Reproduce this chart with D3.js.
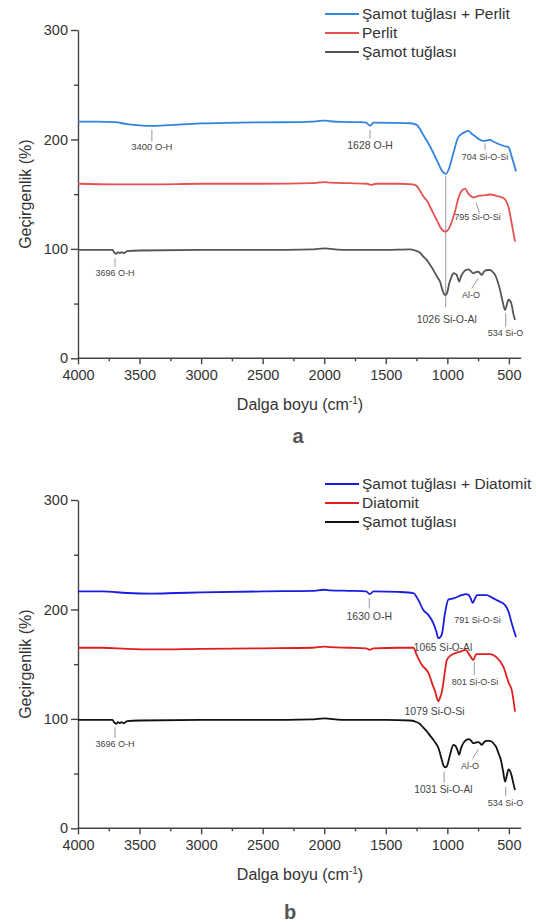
<!DOCTYPE html>
<html>
<head>
<meta charset="utf-8">
<script src="https://cdn.jsdelivr.net/npm/d3@7"></script>
<style>
  body { margin: 0; background: #fff; }
  svg { display: block; font-family: "Liberation Sans", Arial, sans-serif; }
</style>
</head>
<body>
<svg id="chart" width="536" height="924"></svg>
<script>
// wavenumber (cm-1), transmittance (%)
const perlitMix = [[4000,216.3],[3850,216.3],[3700,215.8],[3600,214],[3500,212.8],[3400,212.3],[3300,212.8],[3150,213.8],[3000,214.6],[2800,215.2],[2500,215.6],[2200,215.8],[2100,216.2],[2050,216.8],[2000,217.2],[1950,216.6],[1850,216],[1700,215.8],[1660,215.3],[1628,212.6],[1600,215.4],[1450,215.2],[1300,214.8],[1249,213.3],[1195,204.1],[1140,193.5],[1086,181.3],[1040,170.8],[1012,168.5],[985,173.8],[951,187.5],[911,202.1],[870,206],[830,207.8],[800,205],[775,203],[740,200],[708,198.6],[680,199],[653,199.6],[620,197.6],[599,196.5],[540,194],[504,193],[477,184.3],[442,170.6]];
const perlit = [[4000,159.5],[3700,159],[3400,159],[3000,159.5],[2500,159.5],[2100,160],[2000,161],[1950,160.5],[1800,160],[1650,159.5],[1620,158.5],[1580,159.5],[1400,159.5],[1280,159],[1249,157.5],[1195,148],[1160,143],[1140,138.5],[1110,131.5],[1086,126.5],[1050,118.5],[1019,115.7],[990,118],[965,124.5],[940,133],[911,146],[884,153],[856,155],[830,150.5],[800,147.5],[789,147],[760,148],[708,148.8],[653,149.7],[600,148.3],[545,146.5],[504,138.5],[480,125],[450,106.6]];
const samotA = [[4000,99],[3800,99],[3720,99],[3705,96.5],[3690,95.5],[3675,97],[3660,96],[3645,97],[3630,96],[3615,97],[3600,98],[3500,98.5],[3000,99],[2500,99],[2100,99.5],[2000,100.5],[1950,100],[1800,99],[1500,99],[1303,99.5],[1260,98.5],[1222,96.5],[1195,93],[1168,90],[1140,85.3],[1114,80.8],[1085,74.8],[1059,70],[1040,62.5],[1025,58.5],[1013,57.9],[1000,60.5],[984,68.7],[965,74.7],[951,77.7],[935,77.2],[924,76.2],[910,71.7],[903,70],[890,74.7],[875,77.7],[850,80.7],[830,81.3],[810,79.7],[789,77.7],[770,78.7],[748,79.2],[735,77.7],[720,76.2],[705,78.7],[694,80.1],[670,80.7],[653,80.7],[630,78.7],[612,76.2],[590,69.7],[572,62.5],[550,51.5],[531,44.1],[518,48.5],[504,53.5],[490,52.5],[477,48.8],[465,41.3],[450,35]];

const diatomitMix = [[4000,216.5],[3800,216.5],[3600,215],[3400,214.5],[3200,215],[3000,215.5],[2500,216.5],[2100,217],[2000,218],[1950,217.5],[1800,217],[1660,216.5],[1630,214],[1600,216.5],[1400,216],[1276,215],[1235,208.5],[1195,199.4],[1154,195],[1114,187.4],[1090,180],[1073,173.7],[1046,176.8],[1019,196.5],[992,209],[951,210],[883,213],[850,214],[830,213.5],[810,210],[794,206],[775,210],[761,213],[720,213],[680,213],[640,211],[599,208.5],[531,204],[500,197],[477,187.4],[442,174.8]];
const diatomit = [[4000,165],[3800,165],[3600,164],[3400,163.5],[3000,164],[2500,164.5],[2100,165],[2000,166],[1950,165.5],[1800,165],[1660,164.5],[1630,163],[1600,164.5],[1400,165],[1276,165],[1249,158.5],[1208,149.5],[1154,142],[1114,129.5],[1100,125.5],[1085,119],[1073,116],[1060,119],[1041,126.5],[1020,143],[1005,153.5],[978,157.5],[900,161.3],[850,162.8],[820,158.5],[789,153.8],[765,159.2],[700,159.2],[653,159.2],[600,156.2],[545,147.7],[500,132.5],[477,126.5],[450,106.6]];
const samotB = [[4000,99],[3800,99],[3720,99],[3705,96.5],[3690,95.5],[3675,97],[3660,96],[3645,97],[3630,96],[3615,97],[3600,98],[3500,98.5],[3000,99],[2500,99],[2100,99.5],[2000,100.5],[1950,100],[1800,99],[1500,99],[1303,98.5],[1260,97.5],[1222,95.3],[1195,92],[1168,88.8],[1140,84.7],[1114,81],[1090,77],[1073,73.5],[1046,63],[1030,57],[1019,55.8],[1005,56.5],[978,67.3],[951,76.3],[935,75.3],[924,73.3],[910,68.8],[903,67.3],[890,72.8],[870,77.8],[845,80.8],[824,81.4],[805,79.8],[789,77.8],[770,78.3],[748,78.8],[735,77.8],[720,76.3],[700,78.8],[686,79.8],[660,79.8],[640,79.3],[620,76.8],[605,74.8],[585,68.8],[566,62.8],[548,52.8],[531,42.6],[518,47.5],[504,53.8],[490,52.3],[477,47.8],[465,41.7],[450,35]];

const xTicks = [4000, 3500, 3000, 2500, 2000, 1500, 1000, 500];
const xMinor = [3750, 3250, 2750, 2250, 1750, 1250, 750];
const yTicks = [0, 100, 200, 300];
const yMinor = [50, 150, 250];

const legendA = ["Şamot tuğlası + Perlit", "Perlit", "Şamot tuğlası"];
const legendB = ["Şamot tuğlası + Diatomit", "Diatomit", "Şamot tuğlası"];

// annotation: label, leader line [wn, v] -> [wn, v], text centre [wn, v], font size
const notesA = [
  {t: "3400 O-H", l: [[3400,208.7],[3400,198]], at: [3400,193.4], fs: 9.5},
  {t: "1628 O-H", l: [[1628,208.7],[1628,201]], at: [1628,194.3], fs: 10.5},
  {t: "704 Si-O-Si", l: [[694,196.5],[694,190.4]], at: [694,184.3], fs: 9},
  {t: "795 Si-O-Si", l: [[767,142.2],[740,133.1]], at: [755,128.9], fs: 9},
  {t: "3696 O-H", l: [[3699,91.4],[3699,83.7]], at: [3699,77.7], fs: 9},
  {t: "1026 Si-O-Al", l: [[1013,166.6],[1013,46.6]], at: [1005,35.9], fs: 10.5},
  {t: "Al-O", l: [[748,73.1],[802,64]], at: [808,57.6], fs: 9},
  {t: "534 Si-O", l: [[526,41.1],[526,28.9]], at: [527,23.4], fs: 9}
];
const notesB = [
  {t: "1630 O-H", l: [[1634,210.2],[1634,201]], at: [1634,193.4], fs: 10.5},
  {t: "791 Si-O-Si", l: null, at: [754,190.4], fs: 9},
  {t: "1065 Si-O-Al", l: null, at: [1035,165.1], fs: 10.2},
  {t: "801 Si-O-Si", l: [[781,152.3],[781,140.1]], at: [775,134], fs: 9},
  {t: "1079 Si-O-Si", l: null, at: [1104,106.6], fs: 10.5},
  {t: "3696 O-H", l: [[3699,92.3],[3699,82.3]], at: [3699,77.1], fs: 9},
  {t: "1031 Si-O-Al", l: [[1026,51.7],[1026,41.7]], at: [1032,35.6], fs: 10.2},
  {t: "Al-O", l: [[748,72.2],[794,64]], at: [816,57], fs: 9},
  {t: "534 Si-O", l: [[526,38],[526,29.5]], at: [527,23.4], fs: 9}
];

const svg = d3.select("#chart");
const x = d3.scaleLinear().domain([4000, 400]).range([78, 521.2]);
const y = d3.scaleLinear().domain([0, 300]).range([358.3, 30]);
const line = d3.line().x(d => x(d[0])).y(d => y(d[1])).curve(d3.curveMonotoneX);

function drawPanel(dy, series, colors, names, notes, tag, tagX, tagY) {
  const g = svg.append("g").attr("transform", `translate(0,${dy})`);

  // axes
  const xa = g.append("g").attr("transform", `translate(0,${y(0)})`)
    .call(d3.axisBottom(x).tickValues(xTicks).tickFormat(d3.format("d"))
      .tickSize(6).tickSizeOuter(0).tickPadding(5.5));
  g.append("g").attr("transform", `translate(0,${y(0)})`)
    .call(d3.axisBottom(x).tickValues(xMinor).tickSize(3).tickFormat(""))
    .select(".domain").remove();
  g.append("g").attr("transform", `translate(${x(4000)},0)`)
    .call(d3.axisLeft(y).tickValues(yTicks).tickSize(7).tickSizeOuter(0).tickPadding(3));
  g.append("g").attr("transform", `translate(${x(4000)},0)`)
    .call(d3.axisLeft(y).tickValues(yMinor).tickSize(4).tickFormat(""))
    .select(".domain").remove();
  g.selectAll(".domain, .tick line").attr("stroke", "#444").attr("stroke-width", 1.4);
  g.selectAll(".tick text").attr("fill", "#333").style("font-size", "14.5px");
  xa.select(".domain").attr("d", `M${x(4000)},0H${x(400)}`);

  g.append("text")
    .attr("x", 300).attr("y", 410)
    .attr("text-anchor", "middle").attr("fill", "#333").style("font-size", "16px")
    .text("Dalga boyu (cm")
    .call(t => t.append("tspan").attr("dy", -6).style("font-size", "10px").text("-1"))
    .call(t => t.append("tspan").attr("dy", 6).text(")"));
  g.append("text")
    .attr("transform", `translate(31,${(y(0) + y(300)) / 2}) rotate(-90)`)
    .attr("text-anchor", "middle").attr("fill", "#333").style("font-size", "16px")
    .text("Geçirgenlik (%)");

  // annotations
  notes.forEach(n => {
    if (n.l) {
      g.append("line")
        .attr("x1", x(n.l[0][0])).attr("y1", y(n.l[0][1]))
        .attr("x2", x(n.l[1][0])).attr("y2", y(n.l[1][1]))
        .attr("stroke", "#999").attr("stroke-width", 1);
    }
    g.append("text")
      .attr("x", x(n.at[0])).attr("y", y(n.at[1]))
      .attr("dy", "0.35em").attr("text-anchor", "middle")
      .attr("fill", "#444").style("font-size", n.fs + "px")
      .text(n.t);
  });

  // spectra, bottom one first
  series.slice().reverse().forEach((s, i) => {
    g.append("path")
      .attr("d", line(s))
      .attr("fill", "none")
      .attr("stroke", colors[series.length - 1 - i])
      .attr("stroke-width", 1.8);
  });

  // legend
  const lg = g.selectAll(".leg").data(names).enter().append("g")
    .attr("transform", (d, i) => `translate(0,${14 + i * 19})`);
  lg.append("line").attr("x1", 325).attr("x2", 359)
    .attr("stroke", (d, i) => colors[i]).attr("stroke-width", 1.8);
  lg.append("text").attr("x", 362).attr("dy", "0.35em")
    .attr("fill", "#333").style("font-size", "15.5px").text(d => d);

  g.append("text")
    .attr("x", tagX).attr("y", tagY)
    .attr("text-anchor", "middle").attr("fill", "#555")
    .style("font-size", "20px").style("font-weight", "bold")
    .text(tag);
}

drawPanel(0, [perlitMix, perlit, samotA], ["#3384de", "#e65252", "#555555"], legendA, notesA, "a", 298, 443);
drawPanel(470, [diatomitMix, diatomit, samotB], ["#1c1ce0", "#e11d1d", "#111111"], legendB, notesB, "b", 290, 449);
</script>
</body>
</html>
